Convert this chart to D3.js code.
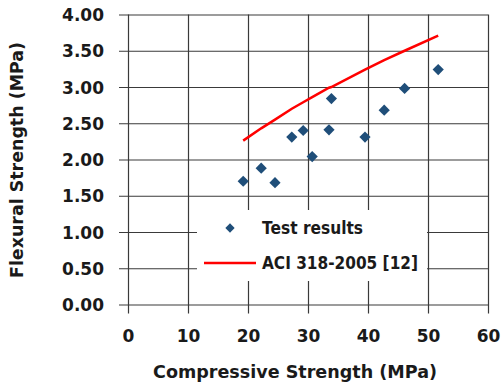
<!DOCTYPE html>
<html>
<head>
<meta charset="utf-8">
<script src="https://cdn.jsdelivr.net/npm/d3@7"></script>
<style>
  body { margin: 0; background: #fff; }
  svg { display: block; }
  text { font-family: "DejaVu Sans", sans-serif; font-weight: bold; fill: #1a1a1a; }
</style>
</head>
<body>
<svg width="503" height="387"></svg>
<script>
const svg = d3.select("svg");

// test results (compressive, flexural)
const testX = [19.2, 22.2, 24.5, 27.3, 29.2, 30.7, 33.5, 33.9, 39.5, 42.7, 46.1, 51.7];
const testY = [1.70, 1.88, 1.68, 2.31, 2.40, 2.04, 2.41, 2.84, 2.31, 2.68, 2.98, 3.24];

// ACI 318-2005 curve
const aciX = [19.2, 22.2, 24.5, 27.3, 29.2, 30.7, 33.5, 33.9, 39.5, 42.7, 46.1, 51.7];
const aciY = [2.26, 2.43, 2.55, 2.70, 2.79, 2.86, 2.99, 3.00, 3.24, 3.37, 3.50, 3.71];

const xTicks = [0, 10, 20, 30, 40, 50, 60];
const yTicks = [0, 0.5, 1, 1.5, 2, 2.5, 3, 3.5, 4];

const x = d3.scaleLinear().domain([0, 60]).range([128, 488]);
const y = d3.scaleLinear().domain([0, 4]).range([304.5, 14.5]);

// gridlines double as axis ticks
let yAxis = d3.axisLeft(y).tickValues(yTicks)
  .tickSizeOuter(0)
  .tickFormat(d3.format(".2f"));
let xAxis = d3.axisBottom(x).tickValues(xTicks)
  .tickSizeOuter(0)
  .tickFormat(d3.format("d"));

let gy = svg.append("g").attr("transform", "translate(128,0)").call(yAxis);
gy.select(".domain").remove();
gy.selectAll(".tick line")
  .attr("x1", -9).attr("x2", 488 - 128)
  .attr("stroke", "#3a3a3a").attr("stroke-width", 1.2);
gy.selectAll(".tick text")
  .attr("x", -24).attr("dy", "0.36em")
  .style("font-size", "17px");

let gx = svg.append("g").attr("transform", "translate(0,304.5)").call(xAxis);
gx.select(".domain").remove();
gx.selectAll(".tick line")
  .attr("y1", 9).attr("y2", -(304.5 - 14.5))
  .attr("stroke", "#3a3a3a").attr("stroke-width", 1.2);
gx.selectAll(".tick text")
  .attr("y", 25).attr("dy", "0.71em")
  .style("font-size", "17px");

// ACI line
let line = d3.line().x(d => x(d[0])).y(d => y(d[1]));
svg.append("path")
  .datum(d3.zip(aciX, aciY))
  .attr("d", line)
  .attr("fill", "none")
  .attr("stroke", "#ff0000")
  .attr("stroke-width", 2.5);

// test result diamonds
let diamond = d3.symbol().type(d3.symbolDiamond2).size(80);
svg.selectAll(".pt")
  .data(d3.zip(testX, testY))
  .enter()
  .append("path")
  .attr("class", "pt")
  .attr("d", diamond)
  .attr("transform", d => `translate(${x(d[0])},${y(d[1])})`)
  .attr("fill", "#1f4e79");

// legend
let legend = svg.append("g");
legend.append("rect")
  .attr("x", 197).attr("y", 210).attr("width", 230).attr("height", 71)
  .attr("fill", "#fff");
legend.append("path")
  .attr("d", d3.symbol().type(d3.symbolDiamond2).size(55))
  .attr("transform", "translate(230,228)")
  .attr("fill", "#1f4e79");
legend.append("text")
  .attr("x", 262).attr("y", 228).attr("dy", "0.36em")
  .style("font-size", "17px")
  .attr("textLength", 101).attr("lengthAdjust", "spacingAndGlyphs")
  .text("Test results");
legend.append("line")
  .attr("x1", 204).attr("x2", 256).attr("y1", 263).attr("y2", 263)
  .attr("stroke", "#ff0000").attr("stroke-width", 2.5);
legend.append("text")
  .attr("x", 262).attr("y", 263).attr("dy", "0.36em")
  .style("font-size", "17px")
  .attr("textLength", 156).attr("lengthAdjust", "spacingAndGlyphs")
  .text("ACI 318-2005 [12]");

// axis titles
svg.append("text")
  .attr("x", 295).attr("y", 372).attr("dy", "0.36em")
  .attr("text-anchor", "middle")
  .style("font-size", "17px")
  .attr("textLength", 284).attr("lengthAdjust", "spacingAndGlyphs")
  .text("Compressive Strength (MPa)");
svg.append("text")
  .attr("transform", "translate(17,160) rotate(-90)")
  .attr("dy", "0.36em")
  .attr("text-anchor", "middle")
  .style("font-size", "17px")
  .attr("textLength", 236).attr("lengthAdjust", "spacingAndGlyphs")
  .text("Flexural Strength (MPa)");
</script>
</body>
</html>
